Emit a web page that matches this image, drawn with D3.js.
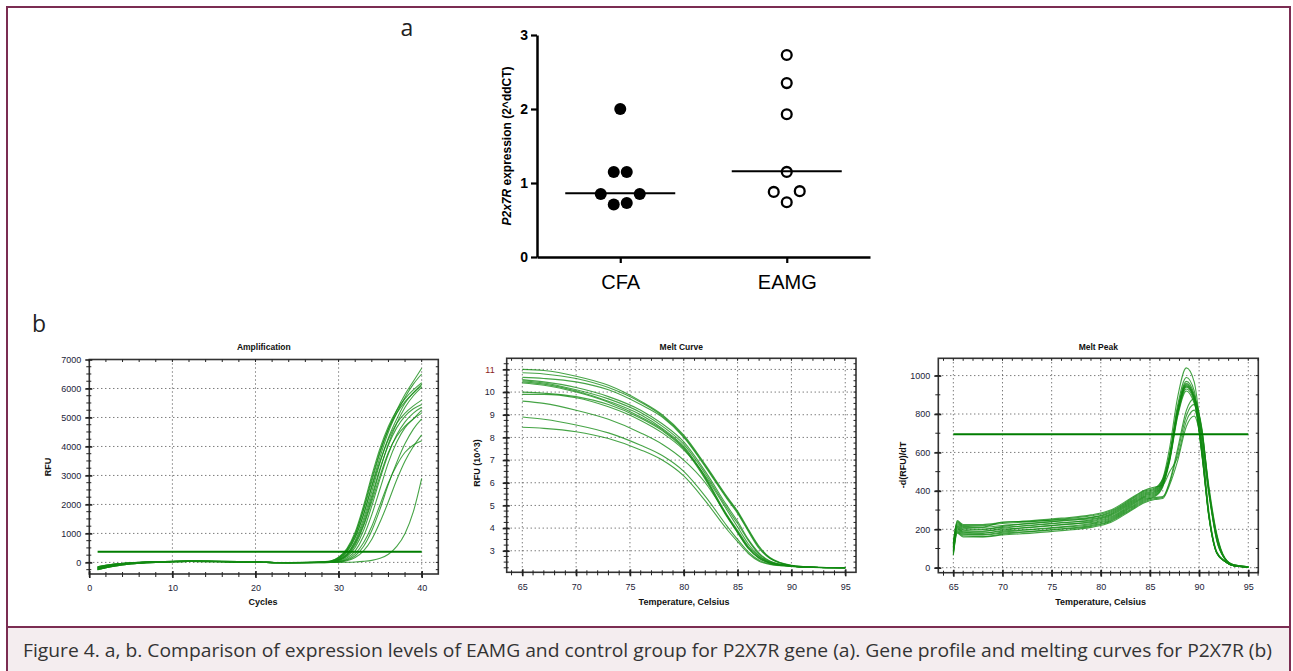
<!DOCTYPE html>
<html>
<head>
<meta charset="utf-8">
<script src="https://cdn.jsdelivr.net/npm/d3@7"></script>
<style>
  body { margin: 0; background: #fff; }
  text { font-family: "Liberation Sans", Arial, sans-serif; }
</style>
</head>
<body>
<div id="figure"></div>
<script>
// ---------------- data ----------------
// panel a: scatter (2^ddCT)
var groups = ["CFA", "EAMG"];
var cfaValues = [2.0, 1.15, 1.15, 0.85, 0.85, 0.71, 0.73];
var eamgValues = [2.73, 2.35, 1.93, 1.15, 0.89, 0.88, 0.74];
var groupMedians = [0.86, 1.16];
var scatterTicks = [0, 1, 2, 3];

// panel b1: amplification
var ampCycles = [1, 3, 5, 8, 12, 16, 20, 24, 27, 29, 30, 31, 32, 33, 34, 35, 36, 37, 38, 39, 40];
var ampCurves = [
  [-230, -110, -40, 10, 35, 30, 10, -10, -5, 40, 150, 420, 950, 1800, 2800, 3800, 4600, 5250, 5800, 6250, 6700],
  [-180, -80, -20, 20, 40, 30, 15, -5, 0, 30, 120, 360, 850, 1650, 2650, 3650, 4500, 5150, 5700, 6150, 6500],
  [-150, -60, -10, 25, 45, 35, 15, -5, 5, 50, 180, 480, 1050, 1950, 3000, 3950, 4700, 5250, 5650, 5950, 6200],
  [-250, -130, -50, 0, 30, 25, 5, -15, -10, 20, 100, 300, 750, 1500, 2450, 3450, 4300, 4950, 5500, 5850, 6150],
  [-200, -95, -30, 15, 38, 28, 10, -8, -3, 40, 160, 440, 980, 1850, 2900, 3850, 4600, 5150, 5550, 5850, 6100],
  [-230, -110, -40, 10, 35, 30, 10, -10, -5, 10, 80, 250, 650, 1300, 2200, 3200, 4100, 4800, 5350, 5750, 6050],
  [-180, -80, -20, 20, 40, 30, 15, -5, 0, 30, 130, 380, 880, 1650, 2600, 3500, 4250, 4800, 5150, 5400, 5600],
  [-150, -60, -10, 25, 45, 35, 15, -5, 5, 20, 90, 280, 700, 1400, 2300, 3250, 4050, 4650, 5050, 5300, 5450],
  [-250, -130, -50, 0, 30, 25, 5, -15, -10, 0, 60, 200, 520, 1100, 1950, 2900, 3750, 4400, 4850, 5150, 5350],
  [-200, -95, -30, 15, 38, 28, 10, -8, -3, 10, 70, 230, 600, 1250, 2100, 3000, 3800, 4350, 4700, 4950, 5150],
  [-230, -110, -40, 10, 35, 30, 10, -10, -5, 0, 40, 150, 400, 900, 1650, 2550, 3450, 4150, 4650, 4950, 5250],
  [-180, -80, -20, 20, 40, 30, 15, -5, 0, 0, 30, 110, 300, 680, 1250, 2000, 2750, 3350, 3800, 4050, 4200],
  [-150, -60, -10, 25, 45, 35, 15, -5, 5, 0, 20, 80, 230, 550, 1100, 1850, 2700, 3450, 4100, 4600, 4950],
  [-250, -130, -50, 0, 30, 25, 5, -15, -10, 0, 15, 60, 170, 400, 800, 1400, 2100, 2850, 3500, 4000, 4400],
  [-200, -95, -30, 15, 38, 28, 10, -8, -3, 0, 0, 5, 15, 35, 70, 140, 280, 550, 1000, 1750, 2900]
];
var ampThreshold = 370;
var ampXTicks = [0, 10, 20, 30, 40];
var ampYTicks = [0, 1000, 2000, 3000, 4000, 5000, 6000, 7000];

// panel b2: melt curve (RFU x 10^3)
var meltTemps = [65, 67, 70, 73, 76, 78, 80, 82, 84, 85, 86, 87, 88, 90, 92, 95];
var meltCurves = [
  [11.0, 10.95, 10.7, 10.3, 9.6, 9.0, 8.1, 6.8, 5.4, 4.75, 3.95, 3.2, 2.7, 2.36, 2.28, 2.25],
  [10.85, 10.8, 10.6, 10.2, 9.55, 8.95, 8.05, 6.75, 5.35, 4.7, 3.9, 3.15, 2.68, 2.35, 2.28, 2.25],
  [10.65, 10.6, 10.45, 10.1, 9.45, 8.9, 8.0, 6.7, 5.3, 4.65, 3.85, 3.1, 2.66, 2.35, 2.27, 2.25],
  [10.55, 10.45, 10.2, 9.8, 9.2, 8.6, 7.8, 6.5, 5.0, 4.3, 3.5, 2.9, 2.55, 2.33, 2.27, 2.25],
  [10.5, 10.4, 10.1, 9.7, 9.1, 8.5, 7.7, 6.4, 4.9, 4.2, 3.45, 2.85, 2.53, 2.33, 2.27, 2.25],
  [10.45, 10.35, 10.05, 9.6, 9.0, 8.4, 7.6, 6.25, 4.6, 3.9, 3.2, 2.75, 2.48, 2.32, 2.27, 2.25],
  [10.4, 10.3, 10.0, 9.55, 8.9, 8.35, 7.55, 6.2, 4.55, 3.85, 3.15, 2.7, 2.47, 2.32, 2.27, 2.25],
  [10.0, 9.95, 9.8, 9.45, 8.85, 8.3, 7.5, 6.15, 4.5, 3.8, 3.1, 2.68, 2.46, 2.32, 2.27, 2.25],
  [9.9, 9.9, 9.75, 9.35, 8.75, 8.2, 7.45, 6.3, 4.8, 4.05, 3.3, 2.78, 2.5, 2.33, 2.27, 2.25],
  [9.6, 9.5, 9.2, 8.8, 8.2, 7.7, 7.0, 6.0, 4.55, 3.8, 3.1, 2.66, 2.45, 2.32, 2.27, 2.25],
  [8.9, 8.8, 8.55, 8.2, 7.65, 7.2, 6.5, 5.4, 4.1, 3.5, 2.95, 2.58, 2.42, 2.31, 2.26, 2.25],
  [8.45, 8.4, 8.25, 7.95, 7.45, 7.0, 6.3, 5.2, 3.95, 3.4, 2.88, 2.54, 2.4, 2.31, 2.26, 2.25]
];
var meltXTicks = [65, 70, 75, 80, 85, 90, 95];
var meltYTicks = [3, 4, 5, 6, 7, 8, 9, 10, 11];

// panel b3: melt peak -d(RFU)/dT
var peakTemps = [65, 65.4, 66, 68, 70, 73, 76, 79, 81, 83, 84.5, 85.5, 86.3, 87, 87.8, 88.7, 89.5, 90.3, 91, 91.8, 92.6, 93.5, 95];
var peakCurves = [
  [125, 240, 220, 220, 230, 240, 253, 270, 295, 355, 400, 415, 465, 624, 884, 1040, 967, 645, 291, 83, 36, 10, 3],
  [120, 235, 215, 212, 238, 242, 250, 262, 290, 350, 395, 410, 460, 594, 842, 990, 921, 614, 277, 79, 35, 10, 3],
  [115, 230, 210, 210, 220, 230, 243, 260, 285, 345, 390, 405, 455, 582, 825, 970, 902, 601, 272, 78, 34, 10, 3],
  [110, 225, 205, 200, 215, 232, 245, 255, 280, 340, 385, 400, 450, 573, 812, 955, 888, 592, 267, 76, 33, 10, 3],
  [105, 220, 200, 200, 210, 220, 233, 250, 275, 335, 380, 395, 445, 567, 803, 945, 879, 586, 265, 76, 33, 10, 3],
  [100, 215, 195, 190, 205, 222, 235, 245, 270, 330, 375, 390, 440, 564, 799, 940, 874, 583, 263, 75, 33, 10, 3],
  [95, 210, 190, 190, 200, 210, 223, 240, 265, 325, 370, 385, 435, 558, 791, 930, 865, 577, 260, 74, 33, 10, 3],
  [90, 205, 185, 180, 195, 212, 225, 235, 260, 320, 365, 380, 430, 570, 808, 950, 884, 713, 399, 143, 48, 12, 3],
  [85, 200, 180, 180, 190, 200, 213, 230, 255, 315, 360, 375, 425, 552, 782, 920, 856, 690, 386, 138, 46, 12, 3],
  [80, 195, 175, 172, 185, 198, 210, 225, 250, 310, 355, 370, 420, 576, 816, 960, 893, 720, 403, 144, 48, 12, 3],
  [75, 190, 170, 170, 180, 190, 203, 220, 245, 305, 350, 365, 370, 450, 616, 818, 880, 704, 422, 176, 53, 15, 5],
  [70, 185, 165, 162, 175, 188, 200, 215, 240, 300, 345, 360, 365, 440, 595, 791, 850, 680, 408, 170, 51, 15, 5],
  [65, 180, 160, 160, 170, 180, 193, 210, 235, 295, 340, 355, 360, 430, 553, 735, 790, 632, 379, 158, 47, 15, 5],
  [130, 245, 225, 225, 235, 245, 258, 275, 300, 360, 405, 420, 430, 500, 574, 763, 820, 656, 394, 164, 49, 15, 5]
];
var peakThreshold = 695;
var peakXTicks = [65, 70, 75, 80, 85, 90, 95];
var peakYTicks = [0, 200, 400, 600, 800, 1000];

var captionText = "Figure 4. a, b. Comparison of expression levels of EAMG and control group for P2X7R gene (a). Gene profile and melting curves for P2X7R (b)";

// ---------------- page ----------------
var W = 1293, H = 671;
var svg = d3.select("#figure").append("svg")
    .attr("width", W)
    .attr("height", H)
    .style("display", "block");

svg.append("rect").attr("width", W).attr("height", H).attr("fill", "#fff");

// caption box
svg.append("rect")
    .attr("x", 8).attr("y", 627).attr("width", 1282).attr("height", 50)
    .attr("fill", "#f4edef");
svg.append("line")
    .attr("x1", 7).attr("x2", 1290).attr("y1", 627).attr("y2", 627)
    .attr("stroke", "#7b2d52").attr("stroke-width", 2);
// outer frame (bottom runs off the page)
svg.append("rect")
    .attr("x", 7).attr("y", 7).attr("width", 1283).attr("height", 700)
    .attr("fill", "none").attr("stroke", "#7b2d52").attr("stroke-width", 2);

svg.append("text")
    .attr("x", 23).attr("y", 657)
    .attr("textLength", 1249)
    .attr("lengthAdjust", "spacingAndGlyphs")
    .style("font-family", "'Open Sans', 'Noto Sans', sans-serif")
    .style("font-size", "18.5px")
    .attr("fill", "#333")
    .text(captionText);

// panel letters
svg.append("text").attr("x", 407).attr("y", 36).attr("text-anchor", "middle")
    .style("font-family", "'Open Sans', sans-serif").style("font-size", "23px")
    .attr("fill", "#222").text("a");
svg.append("text").attr("x", 39).attr("y", 332).attr("text-anchor", "middle")
    .style("font-family", "'Open Sans', sans-serif").style("font-size", "23px")
    .attr("fill", "#222").text("b");

// ---------------- panel a ----------------
var yScatter = d3.scaleLinear().domain([0, 3]).range([257, 35]);
var xScatter = d3.scalePoint().domain(groups).range([537, 870]).padding(0.5);

var scatterG = svg.append("g");

var leftAxis = d3.axisLeft(yScatter).tickValues(scatterTicks).tickFormat(d3.format("d"))
    .tickSize(6).tickSizeOuter(0).tickPadding(3);
var gy = scatterG.append("g").attr("transform", "translate(537,0)").call(leftAxis);
gy.select(".domain").attr("stroke", "#000").attr("stroke-width", 2.5);
gy.selectAll(".tick line").attr("stroke", "#000").attr("stroke-width", 2.2);
gy.selectAll(".tick text").style("font-size", "14px").style("font-weight", "bold").attr("fill", "#000");

var bottomAxis = d3.axisBottom(xScatter).tickSize(6).tickSizeOuter(0).tickPadding(12);
var gx = scatterG.append("g").attr("transform", "translate(0,257)").call(bottomAxis);
gx.select(".domain").attr("stroke", "#000").attr("stroke-width", 2.5);
gx.selectAll(".tick line").attr("stroke", "#000").attr("stroke-width", 2.2);
gx.selectAll(".tick text").style("font-size", "20px").attr("fill", "#000");

// y axis title with italic gene name
var yTitle = scatterG.append("text")
    .attr("transform", "translate(511," + yScatter(1.5) + ") rotate(-90)")
    .attr("text-anchor", "middle")
    .style("font-size", "12px").style("font-weight", "bold").attr("fill", "#000");
yTitle.append("tspan").style("font-style", "italic").text("P2x7R");
yTitle.append("tspan").text(" expression (2^ddCT)");

// spread overlapping points sideways, row by row (like a column scatter)
function swarm(values, cx) {
  var step = 6.5, minDist = 13;
  var sorted = values.slice().sort(function(a, b) { return a - b; });
  var rows = [];
  sorted.forEach(function(v) {
    var last = rows[rows.length - 1];
    if (last && v - last[0] <= 0.05) last.push(v);
    else rows.push([v]);
  });
  var placed = [];
  rows.forEach(function(row) {
    var n = row.length;
    for (var k = 0; k < 20; k++) {
      var pts = row.map(function(v, i) {
        var off = (i - (n - 1) / 2) * 2 * step;
        var push = off === 0 ? (n === 1 ? k * step : 0) : Math.sign(off) * k * step;
        return { v: v, x: cx + off + push, y: yScatter(v) };
      });
      var clash = pts.some(function(p) {
        return placed.some(function(q) { return Math.hypot(p.x - q.x, p.y - q.y) < minDist; });
      });
      if (!clash) { placed = placed.concat(pts); break; }
    }
  });
  return placed;
}

var cfaPts = swarm(cfaValues, xScatter("CFA"));
var eamgPts = swarm(eamgValues, xScatter("EAMG"));

scatterG.selectAll("circle.cfa").data(cfaPts).enter().append("circle")
    .attr("class", "cfa")
    .attr("cx", function(d) { return d.x; })
    .attr("cy", function(d) { return d.y; })
    .attr("r", 6).attr("fill", "#000");

scatterG.selectAll("circle.eamg").data(eamgPts).enter().append("circle")
    .attr("class", "eamg")
    .attr("cx", function(d) { return d.x; })
    .attr("cy", function(d) { return d.y; })
    .attr("r", 4.9).attr("fill", "#fff").attr("stroke", "#000").attr("stroke-width", 2.3);

scatterG.selectAll("line.median").data(groups).enter().append("line")
    .attr("class", "median")
    .attr("x1", function(d) { return xScatter(d) - 55; })
    .attr("x2", function(d) { return xScatter(d) + 55; })
    .attr("y1", function(d, i) { return yScatter(groupMedians[i]); })
    .attr("y2", function(d, i) { return yScatter(groupMedians[i]); })
    .attr("stroke", "#000").attr("stroke-width", 2);

// ---------------- panel b ----------------
var green = "#128a12";

function drawPcrPanel(o) {
  var g = svg.append("g");
  var x = d3.scaleLinear().domain(o.xDomain).range([o.left, o.right]);
  var y = d3.scaleLinear().domain(o.yDomain).range([o.bottom, o.top]);
  var clipId = "clip-" + o.id;

  g.append("clipPath").attr("id", clipId).append("rect")
      .attr("x", o.left).attr("y", o.top)
      .attr("width", o.right - o.left).attr("height", o.bottom - o.top);

  // dotted grid
  g.selectAll("line.gx").data(o.xTicks.filter(function(v) { return x(v) > o.left + 1 && x(v) < o.right - 1; }))
    .enter().append("line").attr("class", "gx")
      .attr("x1", function(d) { return x(d); }).attr("x2", function(d) { return x(d); })
      .attr("y1", o.top).attr("y2", o.bottom)
      .attr("stroke", "#444").attr("stroke-width", 1).attr("stroke-dasharray", "1,3");
  g.selectAll("line.gy").data(o.yTicks.filter(function(v) { return y(v) > o.top + 1 && y(v) < o.bottom - 1; }))
    .enter().append("line").attr("class", "gy")
      .attr("x1", o.left).attr("x2", o.right)
      .attr("y1", function(d) { return y(d); }).attr("y2", function(d) { return y(d); })
      .attr("stroke", "#444").attr("stroke-width", 1).attr("stroke-dasharray", "1,3");

  // curves
  var line = d3.line()
      .x(function(d, i) { return x(o.xs[i]); })
      .y(function(d) { return y(d); })
      .curve(d3.curveMonotoneX);
  var cg = g.append("g").attr("clip-path", "url(#" + clipId + ")");
  cg.selectAll("path.curve").data(o.curves).enter().append("path")
      .attr("class", "curve")
      .attr("d", line)
      .attr("fill", "none")
      .attr("stroke", green)
      .attr("stroke-opacity", 0.78)
      .attr("stroke-width", 1.1);

  // threshold
  cg.append("line")
      .attr("x1", x(o.thresholdFrom)).attr("x2", x(o.thresholdTo))
      .attr("y1", y(o.threshold)).attr("y2", y(o.threshold))
      .attr("stroke", "#007d00").attr("stroke-width", 2);

  // frame
  g.append("rect")
      .attr("x", o.left).attr("y", o.top)
      .attr("width", o.right - o.left).attr("height", o.bottom - o.top)
      .attr("fill", "none").attr("stroke", "#333").attr("stroke-width", 1.6);

  // minor ticks on all four sides
  var xMinor = d3.range(o.xMinor[0], o.xDomain[1], o.xMinor[1]);
  var yMinor = d3.range(o.yMinor[0], o.yDomain[1], o.yMinor[1]);
  g.selectAll("line.mxb").data(xMinor).enter().append("line")
      .attr("x1", function(d) { return x(d); }).attr("x2", function(d) { return x(d); })
      .attr("y1", o.bottom - 2).attr("y2", o.bottom + 3)
      .attr("stroke", "#222").attr("stroke-width", 1);
  g.selectAll("line.mxt").data(xMinor).enter().append("line")
      .attr("x1", function(d) { return x(d); }).attr("x2", function(d) { return x(d); })
      .attr("y1", o.top).attr("y2", o.top + 2.5)
      .attr("stroke", "#222").attr("stroke-width", 1);
  g.selectAll("line.myl").data(yMinor).enter().append("line")
      .attr("x1", o.left - 3).attr("x2", o.left + 2)
      .attr("y1", function(d) { return y(d); }).attr("y2", function(d) { return y(d); })
      .attr("stroke", "#222").attr("stroke-width", 1);
  g.selectAll("line.myr").data(yMinor).enter().append("line")
      .attr("x1", o.right - 2.5).attr("x2", o.right)
      .attr("y1", function(d) { return y(d); }).attr("y2", function(d) { return y(d); })
      .attr("stroke", "#222").attr("stroke-width", 1);

  // major ticks + labels
  var ax = d3.axisLeft(y).tickValues(o.yTicks).tickSize(4).tickPadding(o.yPad).tickFormat(d3.format("d"));
  var gyA = g.append("g").attr("transform", "translate(" + o.left + ",0)").call(ax);
  gyA.select(".domain").remove();
  gyA.selectAll(".tick line").attr("stroke", "#222").attr("stroke-width", 1.6).attr("x2", -4).attr("x1", 3);
  gyA.selectAll(".tick text").style("font-size", "9px").attr("fill", function(d) { return d === o.redTick ? "#8b1c1c" : "#1c1c38"; });

  var bx = d3.axisBottom(x).tickValues(o.xTicks).tickSize(4).tickPadding(7).tickFormat(d3.format("d"));
  var gxA = g.append("g").attr("transform", "translate(0," + o.bottom + ")").call(bx);
  gxA.select(".domain").remove();
  gxA.selectAll(".tick line").attr("stroke", "#222").attr("stroke-width", 1.6).attr("y1", -3).attr("y2", 4);
  gxA.selectAll(".tick text").style("font-size", "9px").attr("fill", "#1c1c38");

  // titles
  g.append("text").attr("x", (o.left + o.right) / 2).attr("y", 350)
      .attr("text-anchor", "middle").style("font-size", "8.5px").style("font-weight", "bold")
      .attr("fill", "#111").text(o.title);
  g.append("text").attr("x", o.xLabelX).attr("y", 605)
      .attr("text-anchor", "middle").style("font-size", "9px").style("font-weight", "bold")
      .attr("fill", "#111").text(o.xLabel);
  g.append("text").attr("transform", "translate(" + o.yLabelX + "," + o.yLabelY + ") rotate(-90)")
      .attr("text-anchor", "middle").style("font-size", "9px").style("font-weight", "bold")
      .attr("fill", "#111").text(o.yLabel);
}

drawPcrPanel({
  id: "amp", left: 89.3, right: 438.3, top: 359.5, bottom: 574,
  xDomain: [0, 42], yDomain: [-400, 7000],
  xTicks: ampXTicks, yTicks: ampYTicks, xMinor: [0, 2], yMinor: [-250, 250], yPad: 4,
  xs: ampCycles, curves: ampCurves,
  threshold: ampThreshold, thresholdFrom: 1, thresholdTo: 40,
  title: "Amplification", xLabel: "Cycles", xLabelX: 263, yLabel: "RFU", yLabelX: 51, yLabelY: 467
});

drawPcrPanel({
  id: "melt", left: 506.7, right: 856, top: 358.3, bottom: 572.3,
  xDomain: [63.55, 96], yDomain: [2.05, 11.49],
  xTicks: meltXTicks, yTicks: meltYTicks, xMinor: [64, 1], yMinor: [2.25, 0.25], yPad: 8,
  xs: meltTemps, curves: meltCurves,
  threshold: -10, thresholdFrom: 65, thresholdTo: 95, redTick: 11,
  title: "Melt Curve", xLabel: "Temperature, Celsius", xLabelX: 684, yLabel: "RFU (10^3)", yLabelX: 480, yLabelY: 463
});

drawPcrPanel({
  id: "peak", left: 938.3, right: 1258.3, top: 358.3, bottom: 572.7,
  xDomain: [63.47, 96.02], yDomain: [-26, 1090],
  xTicks: peakXTicks, yTicks: peakYTicks, xMinor: [64, 1], yMinor: [0, 100], yPad: 4,
  xs: peakTemps, curves: peakCurves,
  threshold: peakThreshold, thresholdFrom: 65, thresholdTo: 95,
  title: "Melt Peak", xLabel: "Temperature, Celsius", xLabelX: 1100.7, yLabel: "-d(RFU)/dT", yLabelX: 906, yLabelY: 465
});
</script>
</body>
</html>
